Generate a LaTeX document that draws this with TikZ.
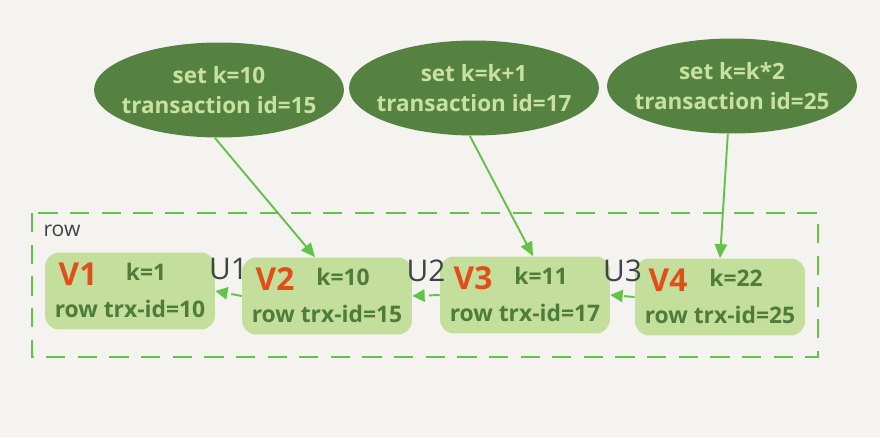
\documentclass[tikz,border=0pt]{standalone}
\usepackage{fontspec}
\setmainfont{Open Sans}
\usepackage{xcolor}
\usetikzlibrary{arrows.meta,positioning,shapes.geometric,calc}

\definecolor{paper}{HTML}{F4F3EF}
\definecolor{txgreen}{HTML}{558241}
\definecolor{txtext}{HTML}{C8E29E}
\definecolor{boxfill}{HTML}{C4DF9B}
\definecolor{boxtext}{HTML}{4F7B3B}
\definecolor{vred}{HTML}{E04E1A}
\definecolor{ugray}{HTML}{3E4449}
\definecolor{linkgreen}{HTML}{63C24A}

\tikzset{
  txnode/.style={ellipse,fill=txgreen,inner sep=0pt,minimum width=5cm,minimum height=1.9cm},
  txlabel/.style={text=txtext,align=center,font=\fontsize{12.8}{17}\selectfont\bfseries},
  verbox/.style={rounded corners=8pt,fill=boxfill,minimum width=3.4cm,minimum height=1.54cm},
  vname/.style={text=vred,font=\fontsize{18}{20}\selectfont\bfseries},
  vtext/.style={text=boxtext,font=\fontsize{13}{15}\selectfont\bfseries},
  ulabel/.style={text=ugray,font=\fontsize{17}{19}\selectfont},
  tarrow/.style={linkgreen,line width=1.1pt,-{Triangle[length=8pt,width=7pt]}},
  uarrow/.style={linkgreen,line width=1.1pt,dash pattern=on 6pt off 4pt,-{Triangle[length=7pt,width=7pt]}},
  groupbox/.style={linkgreen,line width=1.1pt,dash pattern=on 11pt off 7pt},
}

\begin{document}
\begin{tikzpicture}[x=0.02cm,y=-0.02cm]
  % page
  \fill[paper] (0,0) rectangle (880,437);
  \useasboundingbox (0,0) rectangle (880,437);
  % the row and its versions
  \draw[groupbox] (32,213) rectangle (818,357);
  \node[text=ugray,font=\fontsize{12}{14}\selectfont] (rowlbl) at (62,231) {row};
  \foreach \i/\x/\y/\k/\t in {1/130/291/1/10, 2/327/296/10/15, 3/525/295/11/17, 4/720/297/22/25} {
    \node[verbox] (v\i) at (\x,\y) {};
    \node[vname] (v\i name) at ($(v\i.center)+(-52,-17)$) {V\i};
    \node[vtext] (v\i k) at ($(v\i.center)+(16,-19)$) {k=\k};
    \node[vtext] (v\i trx) at ($(v\i.center)+(0,18)$) {row trx-id=\t};
  }
  % undo log links
  \foreach \a/\b/\u in {1/2/1, 2/3/2, 3/4/3} {
    \draw[uarrow] (v\b.west) -- (v\a.east);
    \node[ulabel] (u\u) at ($(v\a.east)!0.5!(v\b.west)+(0,-25)$) {U\u};
  }
  % transactions
  \foreach \i/\x/\y/\s/\n in {1/219/90/10/15, 2/474/88/k+1/17, 3/732/86/k*2/25} {
    \node[txnode] (t\i) at (\x,\y) {};
    \node[txlabel] (t\i txt) at (t\i.center) {set k=\s\\transaction id=\n};
  }
  \draw[tarrow] (t1.265) -- ($(v2.north)+(-12,0)$);
  \draw[tarrow] (t2.265) -- ($(v3.north)+(8,0)$);
  \draw[tarrow] (t3.265) -- (v4.north);
\end{tikzpicture}
\end{document}
